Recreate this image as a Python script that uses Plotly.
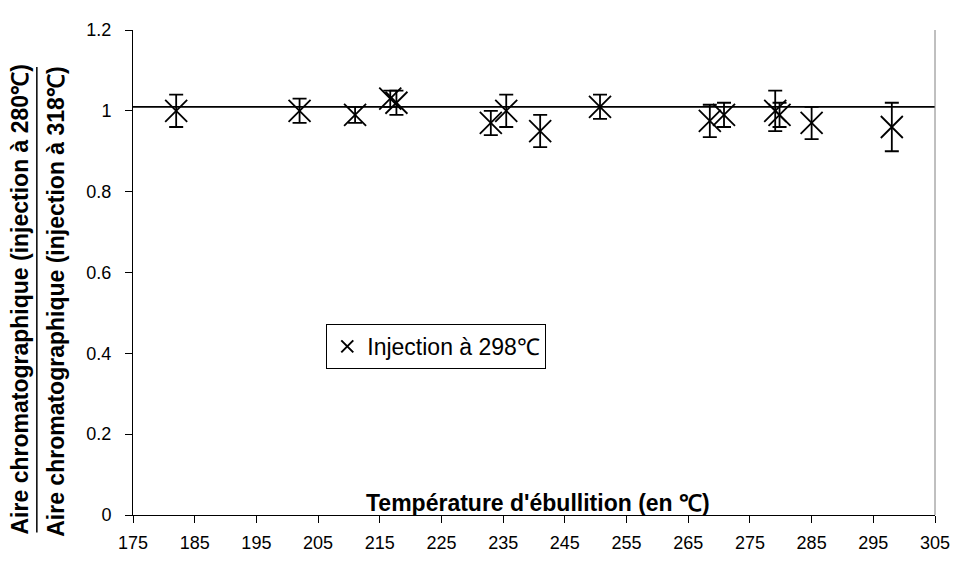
import plotly.graph_objects as go

# Data
temperatures = [182, 202, 211, 216.7, 217.7, 233, 235.5, 241, 250.7, 268.5, 270.8, 279.1, 279.8, 285, 298]
ratios = [1.00, 1.00, 0.99, 1.03, 1.02, 0.97, 1.00, 0.95, 1.01, 0.975, 0.99, 1.00, 0.99, 0.97, 0.96]
errors = [0.04, 0.03, 0.02, 0.02, 0.03, 0.03, 0.04, 0.04, 0.03, 0.04, 0.03, 0.05, 0.03, 0.04, 0.06]
reference_level = 1.01
x_range = [175, 305]
y_range = [0, 1.2]
series_name = "Injection à 298\u2103"
x_title = "Température d'ébullition (en \u2103)"
y_num = "Aire chromatographique (injection à 280\u2103)"
y_den = "Aire chromatographique (injection à 318\u2103)"

FONT = "Liberation Sans, Arial, sans-serif"

fig = go.Figure()

fig.add_trace(go.Scatter(
    x=x_range, y=[reference_level, reference_level],
    mode="lines", line=dict(color="black", width=1.8),
    showlegend=False, hoverinfo="skip",
))

fig.add_trace(go.Scatter(
    x=temperatures, y=ratios, mode="markers", name=series_name,
    marker=dict(symbol="x-thin", size=22, line=dict(color="black", width=1.8), color="black"),
    error_y=dict(type="data", array=errors, visible=True, color="black", thickness=1.8, width=7),
))

# the page body adds an 8px margin, so the figure is 8px smaller and margins compensate
fig.update_layout(
    width=954, height=557,
    margin=dict(l=125, r=20, t=15, b=45),
    paper_bgcolor="white", plot_bgcolor="white",
    font=dict(family=FONT, size=18, color="black"),
    showlegend=True,
    legend=dict(
        x=0.241, y=0.394, xanchor="left", yanchor="top",
        bgcolor="white", bordercolor="black", borderwidth=1,
        font=dict(family=FONT, size=23, color="black"),
        itemsizing="constant",
    ),
    xaxis=dict(
        range=x_range, dtick=10, tick0=175, showgrid=False, zeroline=False,
        showline=True, linecolor="black", linewidth=1,
        ticks="outside", ticklen=7, tickcolor="black",
        ticklabelstandoff=4, ticklabeloverflow="allow",
        tickfont=dict(family=FONT, size=18),
    ),
    yaxis=dict(
        range=y_range, dtick=0.2, showgrid=False, zeroline=False,
        showline=True, linecolor="black", linewidth=1,
        ticks="outside", ticklen=7, tickcolor="black",
        ticklabelstandoff=10,
        tickfont=dict(family=FONT, size=18),
    ),
)

# right border of plot area
fig.add_shape(type="line", xref="paper", yref="paper", x0=1, x1=1, y0=0, y1=1,
              line=dict(color="#808080", width=1))

# x title inside plot
fig.add_annotation(text="<b>" + x_title + "</b>", xref="x", yref="paper", x=240.6, y=0,
                   xanchor="center", yanchor="bottom", yshift=-3, showarrow=False,
                   font=dict(family=FONT, size=23, color="black"))

# y title as fraction
fig.add_annotation(text="<b>" + y_num + "</b>", xref="paper", yref="paper", x=-0.1405, y=0.445,
                   xanchor="center", yanchor="middle", textangle=-90, showarrow=False,
                   font=dict(family=FONT, size=23, color="black"))
fig.add_annotation(text="<b>" + y_den + "</b>", xref="paper", yref="paper", x=-0.0964, y=0.439,
                   xanchor="center", yanchor="middle", textangle=-90, showarrow=False,
                   font=dict(family=FONT, size=23, color="black"))
fig.add_shape(type="line", xref="paper", yref="paper", x0=-0.1199, x1=-0.1199, y0=-0.036, y1=0.9235,
              line=dict(color="black", width=1.5))

fig.write_html("out.html")
